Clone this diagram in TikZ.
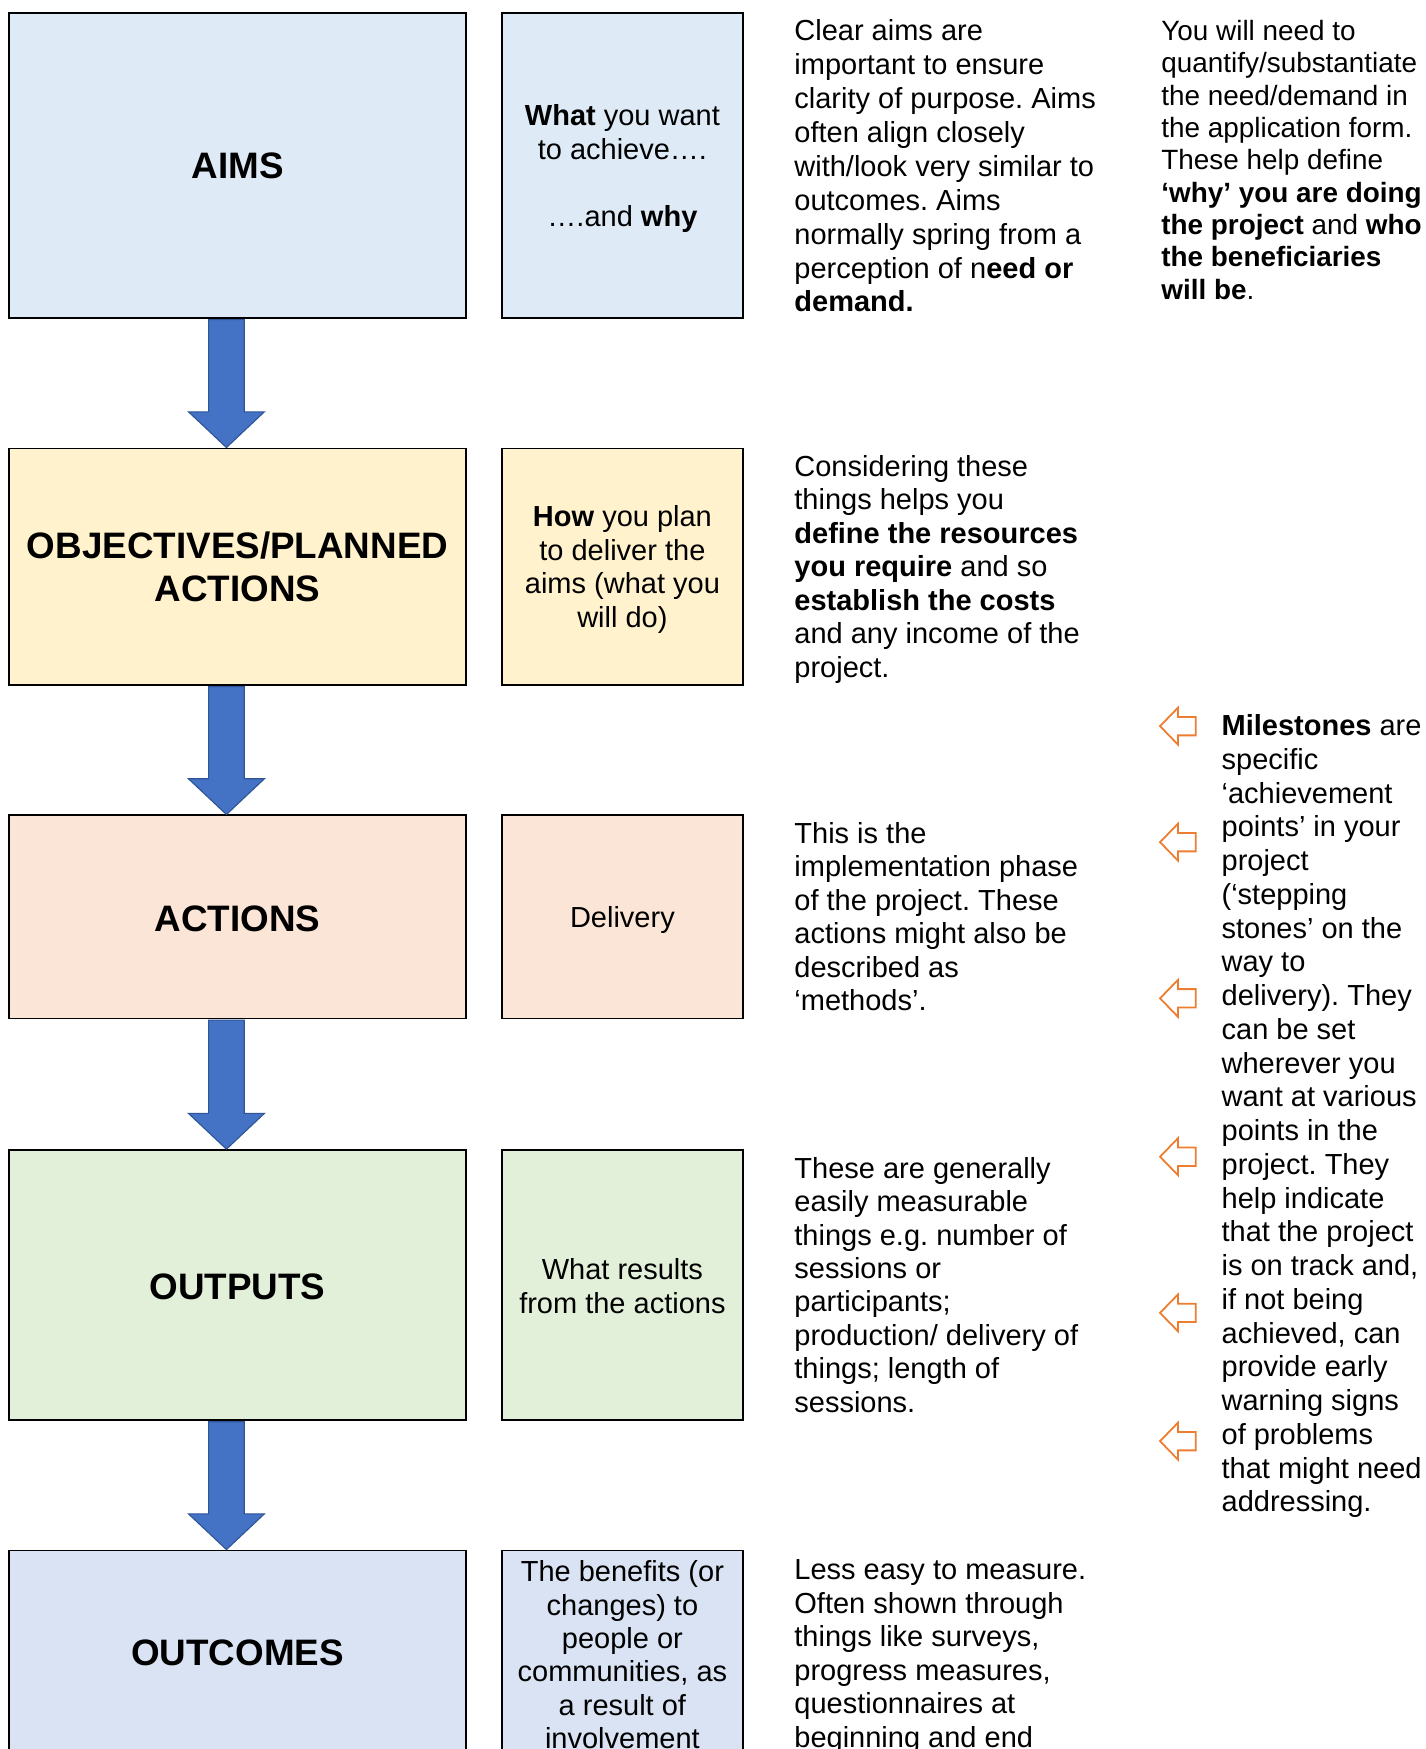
\documentclass[tikz,border=0pt]{standalone}
\usepackage{fontspec}
\setmainfont{Liberation Sans}
\frenchspacing
\usetikzlibrary{calc}
\definecolor{aimsfill}{HTML}{DEEBF7}
\definecolor{objfill}{HTML}{FFF2CC}
\definecolor{actfill}{HTML}{FBE5D6}
\definecolor{outfill}{HTML}{E2F0D9}
\definecolor{outcfill}{HTML}{DAE3F3}
\definecolor{arrfill}{HTML}{4472C4}
\definecolor{arrline}{HTML}{2F5597}
\definecolor{msorange}{HTML}{ED7D31}
\tikzset{
  bigbox/.style={draw=black, line width=1.6pt, minimum width=410pt, inner sep=2pt, align=center, font=\fontsize{33}{39}\selectfont\bfseries},
  notebox/.style={draw=black, line width=1.6pt, minimum width=216pt, inner sep=2pt, align=center, font=\fontsize{26}{30}\selectfont},
  bodytext/.style={anchor=north west, inner sep=0pt, align=left, font=\fontsize{26}{30}\selectfont},
  flowarr/.style={fill=arrfill, draw=arrline, line width=1pt, line join=miter},
  msarr/.style={draw=msorange, line width=1.6pt, fill=white, line join=miter},
}
\newcommand\tallstart{\rule{0pt}{24pt}}
\newcommand\flowarrow[2]{\filldraw[flowarr] let \p1=(#1.south), \p2=(#2.north) in
  (\x1-26pt,\y1-0.8pt) -- (\x1+6pt,\y1-0.8pt) -- (\x1+6pt,\y2+32pt) -- (\x1+24pt,\y2+32pt)
  -- (\x1-10pt,\y2) -- (\x1-44pt,\y2+32pt) -- (\x1-26pt,\y2+32pt) -- cycle;}
\newcommand\msarrow[1]{\begin{scope}[shift={(1040,#1)}]
  \filldraw[msarr] (0,0) -- (16,-16.5) -- (16,-8.25) -- (32,-8.25) -- (32,8.25) -- (16,8.25) -- (16,16.5) -- cycle;
  \end{scope}}
\begin{document}
\begin{tikzpicture}[x=1pt,y=-1pt]
\useasboundingbox (0,0) rectangle (1278,1568);
\clip (0,0) rectangle (1278,1568);
\fill[white] (0,0) rectangle (1278,1568);

% left column boxes
\node[bigbox, fill=aimsfill, minimum height=273pt] (aims) at (213,148.5) {AIMS};
\node[bigbox, fill=objfill, minimum height=212pt] (obj) at (213,508) {OBJECTIVES/PLANNED\\ACTIONS};
\node[bigbox, fill=actfill, minimum height=182pt] (act) at (213,822) {\rule{0pt}{26pt}ACTIONS};
\node[bigbox, fill=outfill, minimum height=242pt] (out) at (213,1152) {\rule{0pt}{26pt}OUTPUTS};
\node[bigbox, fill=outcfill, minimum height=184pt] (outc) at (213,1482) {OUTCOMES};

% note boxes
\node[notebox, fill=aimsfill, minimum height=273pt] (aimsnote) at (558,148.5) {\tallstart\textbf{What} you want\\to achieve….\\\strut\\….and \textbf{why}};
\node[notebox, fill=objfill, minimum height=212pt] (objnote) at (558,508) {\tallstart\textbf{How} you plan\\to deliver the\\aims (what you\\will do)};
\node[notebox, fill=actfill, minimum height=182pt] (actnote) at (558,822) {\tallstart Delivery};
\node[notebox, fill=outfill, minimum height=242pt] (outnote) at (558,1152) {\rule{0pt}{21pt}What results\\from the actions};
\node[notebox, fill=outcfill, minimum height=184pt] (outcnote) at (558,1482) {\rule{0pt}{22pt}The benefits (or\\changes) to\\people or\\communities, as\\a result of\\involvement};

% flow arrows
\flowarrow{aims}{obj}
\flowarrow{obj}{act}
\flowarrow{act}{out}
\flowarrow{out}{outc}

% explanatory texts
\node[bodytext, font=\fontsize{26}{30.4}\selectfont] (aimstext) at (712,15) {\strut Clear aims are\\important to ensure\\clarity of purpose. Aims\\often align closely\\with/look very similar to\\outcomes. Aims\\normally spring from a\\perception of n\textbf{eed or}\\\textbf{demand.}};
\node[bodytext, font=\fontsize{25}{29}\selectfont] (needtext) at (1041,15.7) {\strut You will need to\\quantify/substantiate\\the need/demand in\\the application form.\\These help define\\\textbf{‘why’ you are doing}\\\textbf{the project} and \textbf{who}\\\textbf{the beneficiaries}\\\textbf{will be}.};
\node[bodytext] (objtext) at (712,406) {\strut Considering these\\things helps you\\\textbf{define the resources}\\\textbf{you require} and so\\\textbf{establish the costs}\\and any income of the\\project.};
\node[bodytext] (acttext) at (712,735) {\strut This is the\\implementation phase\\of the project. These\\actions might also be\\described as\\‘methods’.};
\node[bodytext] (outtext) at (712,1035) {\strut These are generally\\easily measurable\\things e.g. number of\\sessions or\\participants;\\production/ delivery of\\things; length of\\sessions.};
\node[bodytext] (outctext) at (712,1395) {\strut Less easy to measure.\\Often shown through\\things like surveys,\\progress measures,\\questionnaires at\\beginning and end};
\node[bodytext, font=\fontsize{26}{30.26}\selectfont] (mstext) at (1095,638) {\strut\textbf{Milestones} are\\specific\\‘achievement\\points’ in your\\project\\(‘stepping\\stones’ on the\\way to\\delivery). They\\can be set\\wherever you\\want at various\\points in the\\project. They\\help indicate\\that the project\\is on track and,\\if not being\\achieved, can\\provide early\\warning signs\\of problems\\that might need\\addressing.};

% milestone arrows
\msarrow{651}
\msarrow{755}
\msarrow{895}
\msarrow{1037}
\msarrow{1177}
\msarrow{1292}
\end{tikzpicture}
\end{document}
